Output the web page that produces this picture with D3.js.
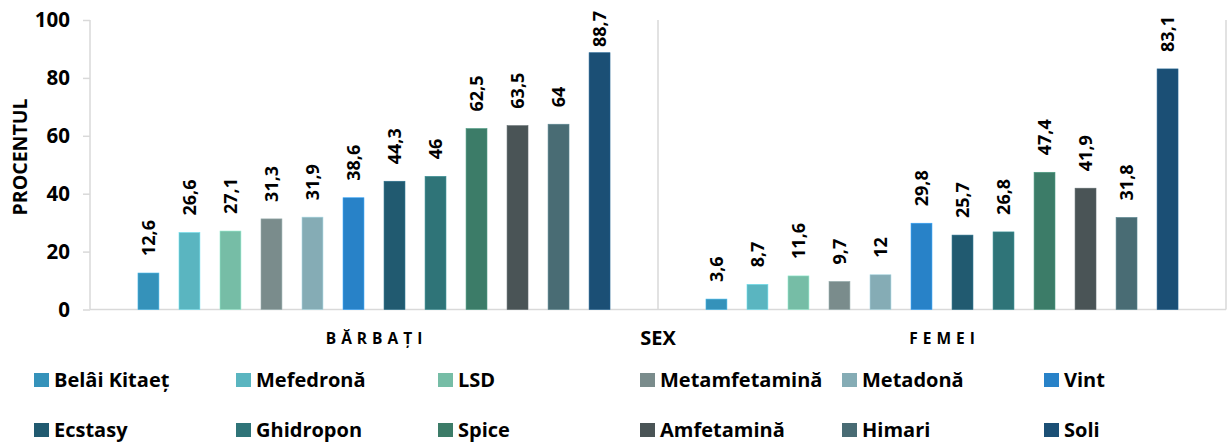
<!DOCTYPE html>
<html><head><meta charset="utf-8">
<script src="https://cdn.jsdelivr.net/npm/d3@7"></script>
<style>
html,body{margin:0;padding:0;background:#fff;}
text{font-family:"Open Sans",sans-serif;font-weight:700;fill:#000;}
</style></head>
<body>
<svg id="c" width="1228" height="444"></svg>
<script>
const groups = ["BĂRBAȚI", "FEMEI"];
const series = ["Belâi Kitaeț","Mefedronă","LSD","Metamfetamină","Metadonă","Vint","Ecstasy","Ghidropon","Spice","Amfetamină","Himari","Soli"];
const barbati = [12.6,26.6,27.1,31.3,31.9,38.6,44.3,46,62.5,63.5,64,88.7];
const femei = [3.6,8.7,11.6,9.7,12,29.8,25.7,26.8,47.4,41.9,31.8,83.1];
const colors = ["#3592ba","#5ab5c0","#76bda6","#7a8c8c","#85acb5","#2882c8","#215a70","#2f7478","#3c7c68","#4a5456","#496c74","#1b4f75"];
const yTicks = [0,20,40,60,80,100];
const yTitle = "PROCENTUL";
const xTitle = "SEX";

(function(){
const values = [barbati, femei];
const svg = d3.select("#c");
const pLeft = 90, pRight = 1226, pTop = 20, pBottom = 309.5;

const x0 = d3.scaleBand().domain(groups).range([pLeft, pRight]).padding(0);
const x1 = d3.scaleBand().domain(series).range([0, x0.bandwidth()])
  .paddingInner(0.49).paddingOuter(1.17);
const y = d3.scaleLinear().domain([0,100]).range([pBottom, pTop]);
const color = d3.scaleOrdinal().domain(series).range(colors);

const fmt = v => String(v).replace(".", ",");
const axisCol = "#d9d9d9";

svg.append("line").attr("x1",pLeft).attr("x2",pLeft).attr("y1",pTop).attr("y2",pBottom).attr("stroke",axisCol).attr("stroke-width",1.5);
svg.append("line").attr("x1",pLeft).attr("x2",pRight).attr("y1",pBottom).attr("y2",pBottom).attr("stroke",axisCol).attr("stroke-width",1.5);
groups.forEach(g => {
  const xe = x0(g) + x0.bandwidth();
  svg.append("line").attr("x1",xe).attr("x2",xe).attr("y1",pTop).attr("y2",pBottom).attr("stroke",axisCol).attr("stroke-width",1.5);
});

const yAxis = d3.axisLeft(y).tickValues(yTicks).tickSize(7).tickPadding(13).tickFormat(d3.format("d"));
const ya = svg.append("g").attr("transform",`translate(${pLeft},0)`).call(yAxis);
ya.select(".domain").remove();
ya.selectAll(".tick line").attr("stroke",axisCol).attr("stroke-width",1.5);
ya.selectAll(".tick text").style("font-family","Open Sans").style("font-weight","700").style("font-size","20.5px").attr("fill","#000");

svg.append("text").attr("transform","translate(27,157) rotate(-90)").attr("text-anchor","middle")
  .style("font-size","19.5px").text(yTitle);

groups.forEach((g, gi) => {
  const gEl = svg.append("g").attr("transform",`translate(${x0(g)},0)`);
  series.forEach((s, si) => {
    const v = values[gi][si];
    const bx = x1(s), bw = x1.bandwidth();
    gEl.append("rect").attr("x",bx).attr("y",y(v)).attr("width",bw).attr("height",pBottom - y(v))
      .attr("fill",color(s)).attr("stroke", d3.color(color(s)).brighter(0.6)).attr("stroke-width",0.6);
    const t = gEl.append("text").style("font-size","18px").attr("text-anchor","start")
      .attr("dy","0.36em").text(fmt(v));
    const len = t.node().getComputedTextLength();
    const yb = Math.max(y(v) - 17, 11 + len);
    t.attr("transform",`translate(${bx + bw/2},${yb}) rotate(-90)`);
  });
  svg.append("text").attr("x", x0(g) + x0.bandwidth()/2 + 2.5).attr("y",338.5).attr("dy","0.35em")
    .attr("text-anchor","middle").style("font-size","15.5px").style("letter-spacing","5px").text(g);
});

svg.append("text").attr("x", x0(groups[0]) + x0.bandwidth()).attr("y",338).attr("dy","0.35em")
  .attr("text-anchor","middle").style("font-size","20px").text(xTitle);

const lg = svg.append("g");
series.forEach((s, i) => {
  const col = i % 6, row = Math.floor(i / 6);
  const lx = 34 + col * 202, ly = 380 + row * 50;
  lg.append("rect").attr("x",lx).attr("y",ly - 7).attr("width",15).attr("height",14).attr("fill",color(s));
  lg.append("text").attr("x",lx + 20).attr("y",ly).attr("dy","0.35em").style("font-size","20px").text(s);
});
})();
</script>
</body></html>
